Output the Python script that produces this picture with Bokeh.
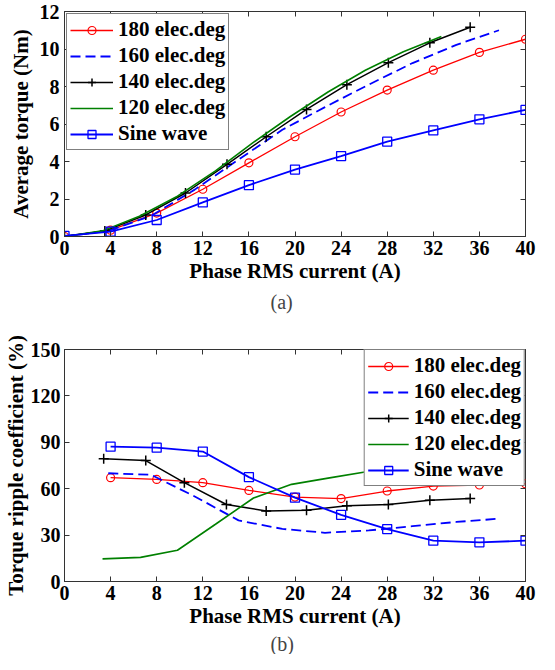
from bokeh.plotting import figure
from bokeh.models import Legend, LegendItem, LinearAxis, Title, FixedTicker
from bokeh.layouts import column
from bokeh.embed import file_html
from bokeh.resources import INLINE

# ---------------- data: (a) average torque ----------------
x_180 = [0, 4, 8, 12, 16, 20, 24, 28, 32, 36, 40]
torque_180 = [0.0, 0.34, 1.25, 2.52, 3.93, 5.32, 6.64, 7.81, 8.87, 9.82, 10.52]
x_160 = [0, 3.8, 7.5, 11.3, 15.1, 18.9, 22.6, 26.4, 30.2, 34, 37.7]
torque_160 = [0.0, 0.3, 1.1, 2.5, 4.1, 5.69, 6.9, 8.1, 9.25, 10.22, 11.0]
x_140 = [0, 3.5, 7.05, 10.5, 14.1, 17.5, 21, 24.5, 28.1, 31.7, 35.2]
torque_140 = [0.0, 0.3, 1.15, 2.32, 3.85, 5.32, 6.78, 8.1, 9.27, 10.33, 11.16]
x_120 = [0, 3.3, 6.5, 9.8, 13.1, 16.3, 19.6, 22.9, 26.1, 29.4, 32.7]
torque_120 = [0.0, 0.3, 1.08, 2.15, 3.5, 4.98, 6.4, 7.72, 8.87, 9.85, 10.67]
x_sine = [0, 4, 8, 12, 16, 20, 24, 28, 32, 36, 40]
torque_sine = [0.03, 0.26, 0.88, 1.82, 2.74, 3.57, 4.29, 5.06, 5.66, 6.25, 6.75]

# ---------------- data: (b) torque ripple coefficient ----------------
xb_180 = [4, 8, 12, 16, 20, 24, 28, 32, 36, 40]
ripple_180 = [67.1, 66.0, 63.9, 58.9, 54.6, 53.6, 58.5, 61.7, 62.4, 63.2]
xb_160 = [3.8, 7.5, 11.3, 15.1, 18.9, 22.6, 26.4, 30.2, 34, 37.7]
ripple_160 = [70.0, 69.0, 55.0, 39.5, 34.0, 31.5, 33.0, 35.8, 38.5, 40.6]
xb_140 = [3.4, 7.05, 10.4, 14.05, 17.5, 21, 24.5, 28.1, 31.7, 35.2]
ripple_140 = [79.4, 78.2, 63.9, 49.8, 45.6, 46.1, 48.9, 49.8, 52.5, 53.6]
xb_120 = [3.3, 6.6, 9.8, 13.1, 16.4, 19.7, 23, 26.2, 29.5, 32.8]
ripple_120 = [14.6, 15.6, 20.2, 37.0, 54.0, 62.8, 67.0, 71.0, 74.0, 77.0]
xb_sine = [4, 8, 12, 16, 20, 24, 28, 32, 36, 40]
ripple_sine = [87.2, 86.5, 84.0, 67.5, 54.2, 43.1, 33.9, 26.4, 25.3, 26.4]

x_ticks = [0, 4, 8, 12, 16, 20, 24, 28, 32, 36, 40]
ya_ticks = [0, 2, 4, 6, 8, 10, 12]
yb_ticks = [0, 30, 60, 90, 120, 150]

labels = ["180 elec.deg", "160 elec.deg", "140 elec.deg", "120 elec.deg", "Sine wave"]
x_label = "Phase RMS current (A)"

FONT = "Liberation Serif"
RED, BLUE, BLACK, GREEN = "#ff0000", "#0000ff", "#000000", "#008000"


def style_axes(p, yticks, y_label_standoff, y_axis_label_standoff):
    p.xgrid.visible = False
    p.ygrid.visible = False
    p.outline_line_color = "#333333"
    p.outline_line_width = 1
    for ax, ticks in ((p.xaxis[0], x_ticks), (p.yaxis[0], yticks)):
        ax.ticker = FixedTicker(ticks=ticks)
        ax.major_tick_in = 5
        ax.major_tick_out = 0
        ax.minor_tick_line_color = None
        ax.axis_line_color = "#333333"
        ax.major_tick_line_color = "#333333"
        ax.major_label_text_font = FONT
        ax.major_label_text_font_style = "bold"
        ax.major_label_text_font_size = "20px"
        ax.major_label_text_color = "black"
        ax.axis_label_text_font = FONT
        ax.axis_label_text_font_style = "bold"
        ax.axis_label_text_font_size = "21px"
        ax.axis_label_text_color = "black"
    p.xaxis[0].major_label_standoff = 4
    p.xaxis[0].axis_label_standoff = 1
    p.yaxis[0].major_label_standoff = y_label_standoff
    p.yaxis[0].axis_label_standoff = y_axis_label_standoff
    # mirrored (inward) tick marks on the top and right edges, no labels
    for loc, ticks in (("above", x_ticks), ("right", yticks)):
        ax = LinearAxis(ticker=FixedTicker(ticks=ticks))
        ax.major_label_overrides = {t: "" for t in ticks}
        ax.major_tick_in = 5
        ax.major_tick_out = 0
        ax.minor_tick_line_color = None
        ax.axis_line_color = None
        ax.major_tick_line_color = "#333333"
        ax.major_label_standoff = 0
        ax.major_label_text_font_size = "1px"
        ax.axis_label = None
        p.add_layout(ax, loc)


def add_series(p, xs_list, ys_list):
    (x1, y1), (x2, y2), (x3, y3), (x4, y4), (x5, y5) = zip(xs_list, ys_list)
    r1l = p.line(x1, y1, line_color=RED, line_width=1.3)
    r1m = p.scatter(x1, y1, marker="circle", size=8, line_color=RED, fill_color=None, line_width=1.2)
    r2l = p.line(x2, y2, line_color=BLUE, line_width=1.8, line_dash="10 5")
    r3l = p.line(x3, y3, line_color=BLACK, line_width=1.5)
    r3m = p.scatter(x3, y3, marker="cross", size=10, line_color=BLACK, line_width=1.5)
    r4l = p.line(x4, y4, line_color=GREEN, line_width=1.6)
    r5l = p.line(x5, y5, line_color=BLUE, line_width=1.8)
    r5m = p.scatter(x5, y5, marker="square", size=9, line_color=BLUE, fill_color=None, line_width=1.3)
    return [
        LegendItem(label=labels[0], renderers=[r1l, r1m]),
        LegendItem(label=labels[1], renderers=[r2l]),
        LegendItem(label=labels[2], renderers=[r3l, r3m]),
        LegendItem(label=labels[3], renderers=[r4l]),
        LegendItem(label=labels[4], renderers=[r5l, r5m]),
    ]


def make_legend(items, location, glyph_width):
    return Legend(
        items=items, location=location, margin=2, padding=3, spacing=1,
        glyph_width=glyph_width, glyph_height=20, label_height=20, label_standoff=5,
        label_text_font=FONT, label_text_font_style="bold", label_text_font_size="21px",
        label_text_color="black", border_line_color="black", border_line_width=1,
        background_fill_color="white", background_fill_alpha=1.0,
    )


# ---------------- figure (a) ----------------
pa = figure(width=539, height=315, x_range=(0, 40), y_range=(0, 12),
            output_backend="svg", toolbar_location=None,
            min_border_left=58, min_border_right=14, min_border_top=11, min_border_bottom=78,
            x_axis_label=x_label, y_axis_label="Average torque (Nm)")
style_axes(pa, ya_ticks, 5, 4)
items_a = add_series(pa, [x_180, x_160, x_140, x_120, x_sine],
                     [torque_180, torque_160, torque_140, torque_120, torque_sine])
pa.add_layout(make_legend(items_a, "top_left", 43))
pa.add_layout(Title(text="(a)", align="left", offset=206, text_font=FONT,
                    text_font_style="normal", text_font_size="20px", standoff=6), "below")

# ---------------- figure (b) ----------------
pb = figure(width=539, height=339, x_range=(0, 40), y_range=(0, 150),
            output_backend="svg", toolbar_location=None,
            min_border_left=58, min_border_right=14, min_border_top=34, min_border_bottom=72,
            x_axis_label=x_label, y_axis_label="Torque ripple coefficient (%)")
style_axes(pb, yb_ticks, 4, 0)
items_b = add_series(pb, [xb_180, xb_160, xb_140, xb_120, xb_sine],
                     [ripple_180, ripple_160, ripple_140, ripple_120, ripple_sine])
lb = make_legend(items_b, "top_right", 41)
lb.margin = 0
pb.add_layout(lb)
pb.add_layout(Title(text="(b)", align="left", offset=206, text_font=FONT,
                    text_font_style="normal", text_font_size="20px", standoff=0), "below")

layout = column(pa, pb, spacing=0)
open("out.html", "w").write(file_html(layout, INLINE))
